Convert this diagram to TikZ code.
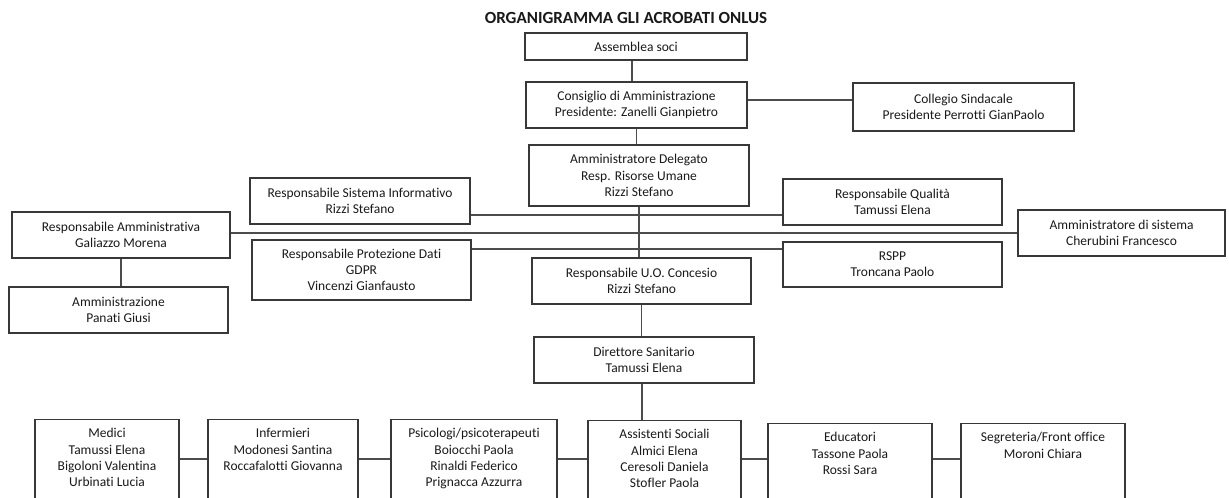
\documentclass[tikz,border=0pt]{standalone}
\usepackage{fontspec}
\setmainfont[Ligatures=NoCommon]{Carlito}
\usepackage{tikz}

\begin{document}
\begin{tikzpicture}[x=1pt, y=-1pt, line width=1.2pt,
  box/.style={draw=black!78, align=center, inner sep=0pt, text=black!90,
    font=\fontsize{13.5}{16.2}\selectfont},
  unit/.style={box, anchor=north, inner ysep=9pt, text depth=90pt},
  link/.style={draw=black!70}]

% fix the page and cut the bottom row
\useasboundingbox (0,0) rectangle (1229,498);
\clip (0,0) rectangle (1229,498);

% title
\node[font=\bfseries\fontsize{17}{20}\selectfont, text=black!90] (title) at (626,18) {ORGANIGRAMMA GLI ACROBATI ONLUS};

% draw boxes of the governing part
\node[box, minimum width=222pt, minimum height=27pt] (asm) at (636,46.5) {Assemblea soci};
\node[box, minimum width=221pt, minimum height=46pt] (cda) at (636.5,105) {Consiglio di Amministrazione\\Presidente: Zanelli Gianpietro};
\node[box, minimum width=221pt, minimum height=48pt] (cs) at (963.5,107) {Collegio Sindacale\\Presidente Perrotti GianPaolo};
\node[box, minimum width=220pt, minimum height=61pt] (ad) at (639,175.5) {Amministratore Delegato\\Resp. Risorse Umane\\Rizzi Stefano};

% draw staff boxes
\node[box, minimum width=220pt, minimum height=46pt] (si) at (360,201) {Responsabile Sistema Informativo\\Rizzi Stefano};
\node[box, minimum width=219pt, minimum height=46pt] (rq) at (892.5,202) {Responsabile Qualità\\Tamussi Elena};
\node[box, minimum width=218pt, minimum height=46pt] (ra) at (121,235) {Responsabile Amministrativa\\Galiazzo Morena};
\node[box, minimum width=207pt, minimum height=46pt] (as) at (1121.5,233) {Amministratore di sistema\\Cherubini Francesco};
\node[box, minimum width=219pt, minimum height=60pt] (pd) at (361.5,270) {Responsabile Protezione Dati\\GDPR\\Vincenzi Gianfausto};
\node[box, minimum width=219pt, minimum height=45pt] (rspp) at (892.5,264.5) {RSPP\\Troncana Paolo};
\node[box, minimum width=219pt, minimum height=46pt] (amm) at (118.5,310) {Amministrazione\\Panati Giusi};

% draw the health line
\node[box, minimum width=219pt, minimum height=46pt] (uo) at (641.5,281) {Responsabile U.O. Concesio\\Rizzi Stefano};
\node[box, minimum width=220pt, minimum height=46pt] (ds) at (644,360) {Direttore Sanitario\\Tamussi Elena};

% draw the bottom row (cut by the page)
\node[unit, minimum width=144pt] (med) at (107,419) {Medici\\Tamussi Elena\\Bigoloni Valentina\\Urbinati Lucia};
\node[unit, minimum width=150pt] (inf) at (283,419) {Infermieri\\Modonesi Santina\\Roccafalotti Giovanna};
\node[unit, minimum width=166pt] (psi) at (474,419) {Psicologi/psicoterapeuti\\Boiocchi Paola\\Rinaldi Federico\\Prignacca Azzurra};
\node[unit, minimum width=153pt] (ass) at (664.5,420) {Assistenti Sociali\\Almici Elena\\Ceresoli Daniela\\Stofler Paola};
\node[unit, minimum width=164pt] (edu) at (850,423) {Educatori\\Tassone Paola\\Rossi Sara};
\node[unit, minimum width=164pt] (seg) at (1043,423) {Segreteria/Front office\\Moroni Chiara};

% heights of the horizontal links
\coordinate (hcs) at (0,100);
\coordinate (hsi) at (0,215);
\coordinate (hra) at (0,233);
\coordinate (hpd) at (0,249);
\coordinate (hrow) at (0,459);

% draw links
\draw[link] ([xshift=-4pt]asm.south) -- ([xshift=-4pt]asm.south |- cda.north);
\draw[link] (cda.south) -- (cda.south |- ad.north);
\draw[link] (cda.east |- hcs) -- (cs.west |- hcs);
\draw[link] (ad.south) -- (ad.south |- uo.north);
\draw[link] (si.east |- hsi) -- (rq.west |- hsi);
\draw[link] (ra.east |- hra) -- (as.west |- hra);
\draw[link] (pd.east |- hpd) -- (rspp.west |- hpd);
\draw[link] (ra.south) -- (ra.south |- amm.north);
\draw[link] (uo.south) -- (uo.south |- ds.north);
\draw[link] ([xshift=-2pt]ds.south) -- ([xshift=-2pt]ds.south |- ass.north);
\foreach \a/\b in {med/inf, inf/psi, psi/ass, ass/edu, edu/seg}
  \draw[link] (\a.east |- hrow) -- (\b.west |- hrow);

\end{tikzpicture}
\end{document}
